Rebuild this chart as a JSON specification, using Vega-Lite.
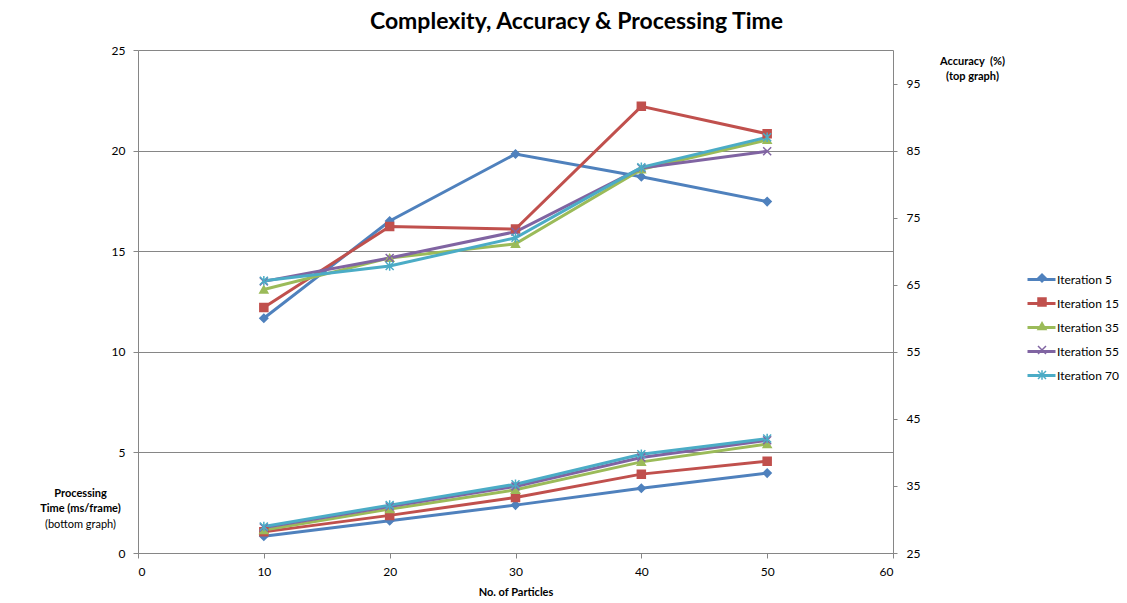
{
  "$schema": "https://vega.github.io/schema/vega-lite/v6.json",
  "width": 755,
  "height": 503,
  "autosize": {"type": "none"},
  "padding": {"left": 138, "top": 50, "right": 234, "bottom": 50},
  "background": "white",
  "config": {
    "view": {"stroke": null},
    "font": "Lato",
    "axis": {
      "labelFont": "Lato",
      "labelFontSize": 12,
      "labelColor": "#000000",
      "titleFont": "Lato",
      "titleColor": "#000000",
      "domainColor": "#868686",
      "tickColor": "#868686",
      "gridColor": "#868686",
      "gridOpacity": 1,
      "domainWidth": 1,
      "tickWidth": 1
    },
    "legend": {"labelFont": "Lato", "labelFontSize": 12, "labelColor": "#000000"}
  },
  "title": {
    "text": "Complexity, Accuracy & Processing Time",
    "font": "Lato",
    "fontSize": 23,
    "fontWeight": "bold",
    "color": "#000000",
    "anchor": "middle",
    "frame": "group",
    "dx": 61,
    "dy": 28,
    "baseline": "alphabetic",
    "offset": 20
  },
  "data": {
    "values": [
      {"particles": 10, "iteration": "Iteration 5", "time": 0.83, "accuracy": 60.0},
      {"particles": 20, "iteration": "Iteration 5", "time": 1.60, "accuracy": 74.5},
      {"particles": 30, "iteration": "Iteration 5", "time": 2.38, "accuracy": 84.5},
      {"particles": 40, "iteration": "Iteration 5", "time": 3.22, "accuracy": 81.1},
      {"particles": 50, "iteration": "Iteration 5", "time": 3.97, "accuracy": 77.4},
      {"particles": 10, "iteration": "Iteration 15", "time": 1.05, "accuracy": 61.6},
      {"particles": 20, "iteration": "Iteration 15", "time": 1.87, "accuracy": 73.7},
      {"particles": 30, "iteration": "Iteration 15", "time": 2.76, "accuracy": 73.3},
      {"particles": 40, "iteration": "Iteration 15", "time": 3.92, "accuracy": 91.6},
      {"particles": 50, "iteration": "Iteration 15", "time": 4.56, "accuracy": 87.5},
      {"particles": 10, "iteration": "Iteration 35", "time": 1.14, "accuracy": 64.3},
      {"particles": 20, "iteration": "Iteration 35", "time": 2.18, "accuracy": 69.0},
      {"particles": 30, "iteration": "Iteration 35", "time": 3.14, "accuracy": 71.1},
      {"particles": 40, "iteration": "Iteration 35", "time": 4.53, "accuracy": 82.2},
      {"particles": 50, "iteration": "Iteration 35", "time": 5.41, "accuracy": 86.6},
      {"particles": 10, "iteration": "Iteration 55", "time": 1.27, "accuracy": 65.5},
      {"particles": 20, "iteration": "Iteration 55", "time": 2.31, "accuracy": 69.0},
      {"particles": 30, "iteration": "Iteration 55", "time": 3.31, "accuracy": 72.9},
      {"particles": 40, "iteration": "Iteration 55", "time": 4.75, "accuracy": 82.4},
      {"particles": 50, "iteration": "Iteration 55", "time": 5.60, "accuracy": 84.9},
      {"particles": 10, "iteration": "Iteration 70", "time": 1.32, "accuracy": 65.6},
      {"particles": 20, "iteration": "Iteration 70", "time": 2.38, "accuracy": 67.8},
      {"particles": 30, "iteration": "Iteration 70", "time": 3.42, "accuracy": 72.0},
      {"particles": 40, "iteration": "Iteration 70", "time": 4.91, "accuracy": 82.5},
      {"particles": 50, "iteration": "Iteration 70", "time": 5.69, "accuracy": 87.0}
    ]
  },
  "transform": [{"calculate": "datum.iteration", "as": "series"}],
  "encoding": {
    "x": {
      "field": "particles",
      "type": "quantitative",
      "scale": {"domain": [0, 60], "nice": false, "zero": false},
      "axis": {
        "values": [0, 10, 20, 30, 40, 50, 60],
        "grid": false,
        "tickSize": 5,
        "labelPadding": 8,
        "title": "No. of Particles",
        "titleFontSize": 11,
        "titleFontWeight": "bold",
        "titleBaseline": "alphabetic",
        "titleY": 42
      }
    }
  },
  "layer": [
    {
      "layer": [
        {
          "mark": {"type": "line", "strokeWidth": 3},
          "encoding": {
            "y": {
              "field": "time",
              "type": "quantitative",
              "scale": {"domain": [0, 25], "nice": false},
              "axis": {
                "orient": "left",
                "values": [0, 5, 10, 15, 20, 25],
                "grid": true,
                "tickSize": 5,
                "labelPadding": 8,
                "title": ["Processing", "Time (ms/frame)"],
                "titleFontSize": 11,
                "titleFontWeight": "bold",
                "titleAngle": 0,
                "titleAlign": "center",
                "titleBaseline": "alphabetic",
                "titleLineHeight": 15,
                "titleX": -58,
                "titleY": 446
              }
            },
            "color": {
              "field": "series",
              "type": "nominal",
              "sort": null,
              "scale": {"range": ["#4F81BD", "#C0504D", "#9BBB59", "#8064A2", "#4BACC6"]},
              "legend": {
                "title": null,
                "orient": "none",
                "legendX": 896,
                "legendY": 222,
                "padding": 0,
                "symbolType": "M-2.333,0L2.333,0",
                "symbolSize": 144,
                "symbolStrokeWidth": 3,
                "labelOffset": 8,
                "rowPadding": 10
              }
            }
          }
        },
        {
          "mark": {"type": "point", "filled": true, "size": 64, "strokeWidth": 1.5, "opacity": 1},
          "encoding": {
            "y": {"field": "time", "type": "quantitative"},
            "fill": {
              "field": "iteration",
              "type": "nominal",
              "scale": {
                "domain": ["Iteration 5", "Iteration 15", "Iteration 35", "Iteration 55", "Iteration 70"],
                "range": ["#4F81BD", "#C0504D", "#9BBB59", "#8064A2", "#4BACC6"]
              },
              "legend": {"title": null, "orient": "none", "legendX": 898, "legendY": 222, "padding": 0, "symbolSize": 64, "symbolStrokeWidth": 1.5, "rowPadding": 10, "labelExpr": "''"}
            },
            "stroke": {
              "field": "iteration",
              "type": "nominal",
              "scale": {
                "domain": ["Iteration 5", "Iteration 15", "Iteration 35", "Iteration 55", "Iteration 70"],
                "range": ["#4F81BD", "#C0504D", "#9BBB59", "#8064A2", "#4BACC6"]
              },
              "legend": {"title": null, "orient": "none", "legendX": 898, "legendY": 222, "padding": 0, "symbolSize": 64, "symbolStrokeWidth": 1.5, "rowPadding": 10, "labelExpr": "''"}
            },
            "shape": {
              "field": "iteration",
              "type": "nominal",
              "scale": {
                "domain": ["Iteration 5", "Iteration 15", "Iteration 35", "Iteration 55", "Iteration 70"],
                "range": ["diamond", "square", "triangle-up", "M-1,-1L1,1M1,-1L-1,1", "M-1,-1L1,1M1,-1L-1,1M0,-1.2L0,1.2"]
              },
              "legend": {"title": null, "orient": "none", "legendX": 898, "legendY": 222, "padding": 0, "symbolSize": 64, "symbolStrokeWidth": 1.5, "rowPadding": 10, "labelExpr": "''"}
            }
          }
        }
      ]
    },
    {
      "layer": [
        {
          "mark": {"type": "line", "strokeWidth": 3},
          "encoding": {
            "y": {
              "field": "accuracy",
              "type": "quantitative",
              "scale": {"domain": [25, 100], "nice": false, "zero": false},
              "axis": {
                "orient": "right",
                "values": [25, 35, 45, 55, 65, 75, 85, 95],
                "grid": false,
                "tickSize": 4,
                "labelPadding": 9,
                "title": ["Accuracy\u00a0 (%)", "(top graph)"],
                "titleFontSize": 11,
                "titleFontWeight": "bold",
                "titleAngle": 0,
                "titleAlign": "center",
                "titleBaseline": "alphabetic",
                "titleLineHeight": 15,
                "titleX": 79,
                "titleY": 14
              }
            },
            "color": {"field": "series", "type": "nominal", "sort": null}
          }
        },
        {
          "mark": {"type": "point", "filled": true, "size": 64, "strokeWidth": 1.5, "opacity": 1},
          "encoding": {
            "y": {"field": "accuracy", "type": "quantitative"},
            "fill": {"field": "iteration", "type": "nominal"},
            "stroke": {"field": "iteration", "type": "nominal"},
            "shape": {"field": "iteration", "type": "nominal"}
          }
        }
      ]
    },
    {
      "mark": {"type": "line", "opacity": 0},
      "encoding": {
        "y": {
          "field": "time",
          "type": "quantitative",
          "scale": {"domain": [0, 25], "nice": false},
          "axis": {
            "orient": "left",
            "domain": false,
            "ticks": false,
            "labels": false,
            "grid": false,
            "title": "(bottom graph)",
            "titleFontSize": 11,
            "titleFontWeight": "normal",
            "titleAngle": 0,
            "titleAlign": "center",
            "titleBaseline": "alphabetic",
            "titleX": -58,
            "titleY": 477
          }
        }
      }
    }
  ],
  "resolve": {"scale": {"y": "independent"}}
}
